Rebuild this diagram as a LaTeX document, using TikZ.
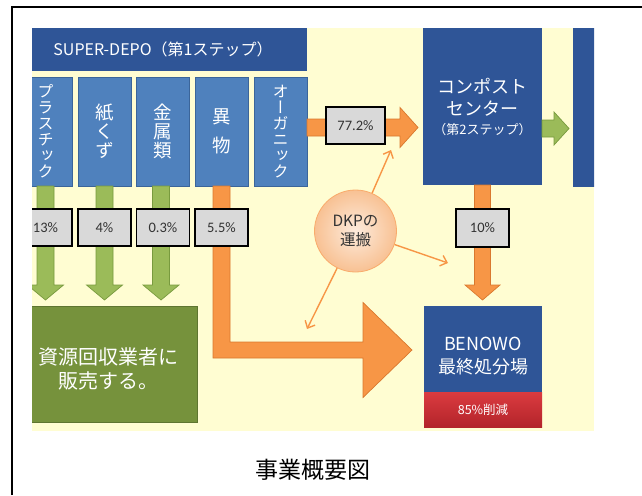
\documentclass[tikz,border=0pt]{standalone}
\usepackage{fontspec}
\setmainfont{Carlito}
\newfontfamily\jp{Noto Sans CJK JP}
\newfontfamily\jpv[Script=CJK,RawFeature=+vert]{Noto Sans CJK JP}
\usetikzlibrary{arrows.meta,calc}
\definecolor{bgyellow}{HTML}{FFFDD2}
\definecolor{darkblue}{HTML}{2F5597}
\definecolor{colblue}{HTML}{4F81BD}
\definecolor{colborder}{HTML}{3B659A}
\definecolor{garrow}{HTML}{9BBB59}
\definecolor{garrowb}{HTML}{789A3E}
\definecolor{gbox}{HTML}{76923C}
\definecolor{gboxb}{HTML}{5E7530}
\definecolor{oarrow}{HTML}{F79646}
\definecolor{oarrowb}{HTML}{D9782E}
\definecolor{pctgray}{HTML}{D9D9D9}
\definecolor{redtop}{HTML}{DB3B40}
\definecolor{redbot}{HTML}{B3242A}
\definecolor{peachin}{HTML}{FDEBDC}
\definecolor{peachout}{HTML}{F8C193}
\definecolor{textgray}{HTML}{333333}
\newcommand\fatdown[6]{%
  \path[#3] let \p1=#1, \p2=#2 in
  (\x1-#4,\y1) -- (\x1+#4,\y1) -- (\x1+#4,\y2+#6) -- (\x1+#5,\y2+#6) -- (\x1,\y2)
  -- (\x1-#5,\y2+#6) -- (\x1-#4,\y2+#6) -- cycle;}
\newcommand\fatright[6]{%
  \path[#3] let \p1=#1, \p2=#2 in
  (\x1,\y1+#4) -- (\x2-#6,\y1+#4) -- (\x2-#6,\y1+#5) -- (\x2,\y1)
  -- (\x2-#6,\y1-#5) -- (\x2-#6,\y1-#4) -- (\x1,\y1-#4) -- cycle;}
\tikzset{
  box/.style={inner sep=0pt, outer sep=0pt},
  deepblue/.style={box, fill=darkblue, text=white},
  column/.style={box, fill=colblue, draw=colborder, line width=0.8pt, minimum width=53pt, minimum height=109pt, text=white},
  kanacol/.style={font=\jpv\fontsize{16}{16}\selectfont, align=center},
  kanjicol/.style={font=\jpv\fontsize{18.5}{19}\selectfont, align=center},
  pct/.style={box, fill=pctgray, draw=black, line width=1.3pt, minimum width=53pt, minimum height=37pt, text=textgray, font=\fontsize{14.5}{14.5}\selectfont},
  greenarrow/.style={fill=garrow, draw=garrowb, line width=0.7pt},
  orangearrow/.style={fill=oarrow, draw=oarrowb, line width=0.7pt},
  thinarrow/.style={draw=oarrow, line width=1.4pt, -{Straight Barb[length=6pt,width=11pt]}},
}
\begin{document}
\begin{tikzpicture}[x=1pt,y=-1pt]
\useasboundingbox (0,0) rectangle (642,495);
\fill[bgyellow] (32,28) rectangle (594,431);
\begin{scope}
\clip (32,28) rectangle (594,431);
% boxes
\node[deepblue, minimum width=288pt, minimum height=43pt, font=\jp\fontsize{16}{16}\selectfont] (depo) at (163,49.5) {SUPER-DEPO（第1ステップ）};
\node[column, kanacol] (col1) at (45.5,131.5) {プ\\ラ\\ス\\チ\\ッ\\ク};
\node[column, kanjicol] (col2) at (104.5,131.5) {紙\\く\\ず};
\node[column, kanjicol] (col3) at (163,131.5) {金\\属\\類};
\node[column, kanjicol] (col4) at (221.5,131.5) {異\\[10pt]物};
\node[column, kanacol] (col5) at (280.5,131.5) {オ\\ー\\ガ\\ニ\\ッ\\ク};
\node[box, fill=gbox, draw=gboxb, line width=0.8pt, minimum width=178pt, minimum height=116pt] (green) at (108,364) {};
\node[font=\jp\fontsize{20}{24}\selectfont, text=white, align=center] (greentxt) at (108,369) {資源回収業者に\\販売する。};
\node[deepblue, minimum width=119pt, minimum height=157pt, align=center, font=\jp\fontsize{18}{22}\selectfont] (compost) at (482.5,106.5) {コンポスト\\センター\\[-3pt]{\fontsize{13}{16}\selectfont （第2ステップ）}};
\node[deepblue, minimum width=30pt, minimum height=159pt] (rightbox) at (588,107.5) {};
\node[deepblue, minimum width=118pt, minimum height=86pt] (benowo) at (483,349) {};
\node[font=\jp\fontsize{18}{23}\selectfont, text=white, align=center] (benowotxt) at (483,356.5) {BENOWO\\最終処分場};
\node[box, top color=redtop, bottom color=redbot, minimum width=118pt, minimum height=35pt, text=white, font=\jp\fontsize{12.5}{13}\selectfont] (reduce) at (483,409.5) {85\%削減};
% tips
\coordinate (gtip) at ($(green.north)+(0,-6)$);
\coordinate (btip) at ($(benowo.north)+(0,-6)$);
\coordinate (ltip) at ($(benowo.west)+(-12,1)$);
% fat arrows
\fatdown{(col1.south)}{(gtip)}{greenarrow}{8.5pt}{18pt}{15pt}
\fatdown{(col2.south)}{(gtip)}{greenarrow}{8.5pt}{18pt}{15pt}
\fatdown{($(col3.south)+(-2,0)$)}{(gtip)}{greenarrow}{8.5pt}{18pt}{15pt}
\fatdown{(compost.south)}{(btip)}{orangearrow}{8pt}{17.5pt}{15pt}
\fatright{($(col5.east)+(0,-4)$)}{($(compost.west)+(-5,0)$)}{orangearrow}{8.5pt}{20pt}{18pt}
\fatright{($(compost.east)+(0,22)$)}{($(rightbox.west)+(-4,0)$)}{greenarrow}{8.5pt}{16.5pt}{15pt}
\path[orangearrow] let \p1=(col4.south), \p2=(ltip) in
  (\x1-8.5pt,\y1) -- (\x1+8.5pt,\y1) -- (\x1+8.5pt,\y2+8pt) -- (\x2-49pt,\y2+8pt)
  -- (\x2-49pt,\y2+47.5pt) -- (\x2,\y2) -- (\x2-49pt,\y2-47.5pt) -- (\x2-49pt,\y2-8pt)
  -- (\x1-8.5pt,\y2-8pt) -- cycle;
% percentages
\node[pct] (p1) at (45.5,227.5) {13\%};
\node[pct] (p2) at (104.5,227.5) {4\%};
\node[pct] (p3) at (163,227.5) {0.3\%};
\node[pct] (p4) at (221.5,227.5) {5.5\%};
\node[pct, minimum width=59pt] (p5) at (355.5,125.5) {77.2\%};
\node[pct, minimum height=38pt] (p6) at (482.5,228) {10\%};
% DKP
\node[circle, draw=oarrow!80!white, line width=0.8pt, inner color=peachin, outer color=peachout, minimum size=82pt, inner sep=0pt, align=center, text=textgray, font=\jp\fontsize{15.5}{19}\selectfont] (dkp) at (355.5,231) {DKPの\\運搬};
\coordinate (t1) at (391,150);
\coordinate (t2) at (448,263);
\coordinate (t3) at (307,329);
\draw[thinarrow] (dkp) -- (t1);
\draw[thinarrow] (dkp) -- (t2);
\draw[thinarrow] (dkp) -- (t3);
\end{scope}
\draw[line width=2pt, line join=miter] (12,495) -- (12,7) -- (642,7);
\node[font=\jp\fontsize{23}{23}\selectfont] (caption) at (313,470) {事業概要図};
\end{tikzpicture}
\end{document}
